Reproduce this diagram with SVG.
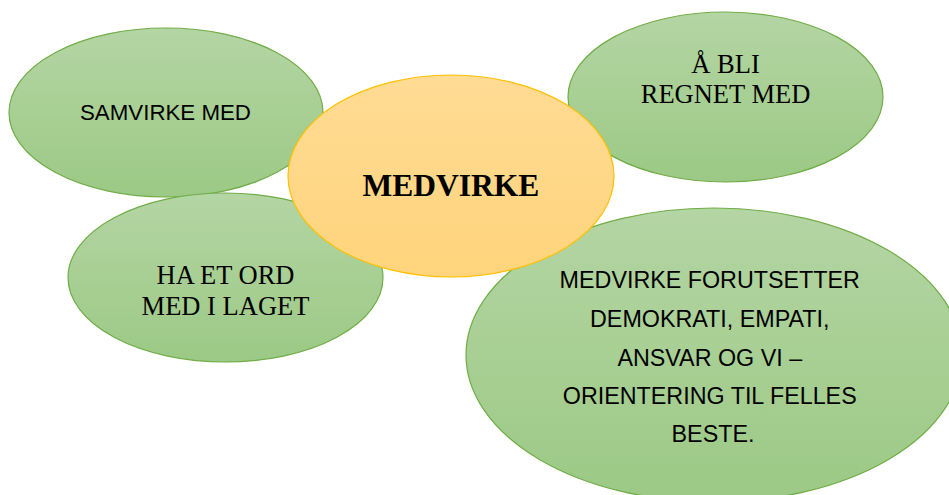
<svg xmlns="http://www.w3.org/2000/svg" width="949" height="495" viewBox="0 0 949 495">
<defs>
<linearGradient id="gGreen" x1="0" y1="0" x2="0" y2="1">
<stop offset="0" stop-color="#b4d5a4"/>
<stop offset="0.5" stop-color="#a8cf94"/>
<stop offset="1" stop-color="#9cc985"/>
</linearGradient>
<linearGradient id="gOrange" x1="0" y1="0" x2="0" y2="1">
<stop offset="0" stop-color="#ffdb94"/>
<stop offset="1" stop-color="#ffd47c"/>
</linearGradient>
<style>
.green{fill:url(#gGreen);stroke:#70ad47;stroke-width:1.2}
.orange{fill:url(#gOrange);stroke:#ffc000;stroke-width:1.2}
.sans{font-family:"Liberation Sans",Arial,sans-serif;fill:#000;text-anchor:middle}
.serif{font-family:"Liberation Serif","Times New Roman",serif;fill:#000;text-anchor:middle}
</style>
</defs>
<rect width="949" height="495" fill="#ffffff"/>
<g id="connectors"></g>
<g id="samvirke">
<ellipse class="green" cx="166" cy="112.5" rx="157" ry="84.5"/>
<text class="sans" x="165.5" y="120" font-size="22.3">SAMVIRKE MED</text>
</g>
<g id="haetord">
<ellipse class="green" cx="225.5" cy="277.5" rx="157.5" ry="84.5"/>
<text class="serif" font-size="26.5"><tspan x="225.5" y="284">HA ET ORD</tspan><tspan x="225.5" y="315">MED I LAGET</tspan></text>
</g>
<g id="abli">
<ellipse class="green" cx="725.5" cy="97" rx="157.5" ry="85"/>
<text class="serif" font-size="26.5"><tspan x="725.5" y="73">Å BLI</tspan><tspan x="725.5" y="103">REGNET MED</tspan></text>
</g>
<g id="forutsetter">
<ellipse class="green" cx="714" cy="355" rx="248" ry="147"/>
<text class="sans" font-size="23.3">
<tspan x="713" y="288">MEDVIRKE FORUTSETTER</tspan>
<tspan x="713" y="327">DEMOKRATI, EMPATI,</tspan>
<tspan x="713" y="365.5">ANSVAR OG VI –</tspan>
<tspan x="713" y="403.5">ORIENTERING TIL FELLES</tspan>
<tspan x="713" y="442">BESTE.</tspan>
</text>
</g>
<g id="medvirke">
<ellipse class="orange" cx="451" cy="176" rx="163" ry="101"/>
<text class="serif" x="451" y="196" font-size="31.5" font-weight="bold">MEDVIRKE</text>
</g>
</svg>
